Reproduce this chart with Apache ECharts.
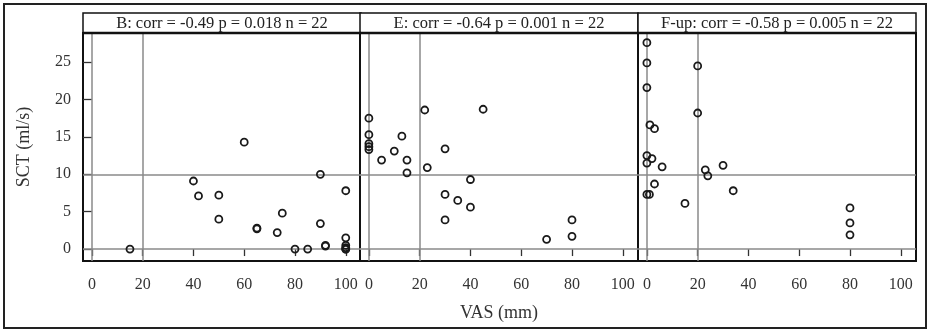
<!DOCTYPE html>
<html>
<head>
<meta charset="utf-8">
<script src="https://cdn.jsdelivr.net/npm/echarts@6/dist/echarts.min.js"></script>
<style>html,body{margin:0;padding:0;background:#fff}#c{width:930px;height:333px}</style>
</head>
<body>
<div id="c"></div>
<script>
// ---- data ----
const panelTitles = [
  "B: corr = -0.49 p = 0.018 n = 22",
  "E: corr = -0.64 p = 0.001 n = 22",
  "F-up: corr = -0.58 p = 0.005 n = 22"
];
const vasB = [15, 40, 42, 50, 50, 60, 90, 100, 75, 65, 65, 73, 90, 80, 85, 92, 92, 100, 100, 100, 100, 100];
const sctB = [0, 9.1, 7.1, 7.2, 4.0, 14.3, 10.0, 7.8, 4.8, 2.8, 2.7, 2.2, 3.4, 0, 0, 0.4, 0.5, 1.5, 0.5, 0.2, 0, 0];
const vasE = [0, 0, 0, 0, 0, 13, 10, 5, 15, 15, 22, 45, 23, 30, 40, 30, 35, 40, 30, 70, 80, 80];
const sctE = [17.5, 15.3, 14.1, 13.7, 13.3, 15.1, 13.1, 11.9, 11.9, 10.2, 18.6, 18.7, 10.9, 13.4, 9.3, 7.3, 6.5, 5.6, 3.9, 1.3, 3.9, 1.7];
const vasF = [0, 0, 0, 20, 20, 1.2, 3, 0, 2, 0, 6, 23, 24, 30, 3, 0, 1, 15, 34, 80, 80, 80];
const sctF = [27.6, 24.9, 21.6, 24.5, 18.2, 16.6, 16.1, 12.5, 12.1, 11.5, 11.0, 10.6, 9.8, 11.2, 8.7, 7.3, 7.3, 6.1, 7.8, 5.5, 3.5, 1.9];
const xTicks = [0, 20, 40, 60, 80, 100];
const yTicks = [0, 5, 10, 15, 20, 25];
const refX = [0, 20];
const refY = [0, 10];
const xTitle = "VAS (mm)";
const yTitle = "SCT (ml/s)";

// ---- layout ----
const FONT = "'Liberation Serif', 'DejaVu Serif', serif";
const lefts = [83, 360, 638];
const W = 278, TOP = 33, H = 228;
const xs = [vasB, vasE, vasF], ys = [sctB, sctE, sctF];

const grids = [], xAxes = [], yAxes = [], series = [], graphics = [];
graphics.push({type:'rect', shape:{x:4, y:4, width:922, height:324}, style:{fill:'none', stroke:'#222', lineWidth:2}, z:10});
for (let i = 0; i < 3; i++) {
  grids.push({left: lefts[i], top: TOP, width: W, height: H, show: true, borderColor: '#111', borderWidth: 2, backgroundColor: '#fff'});
  xAxes.push({
    type: 'value', gridIndex: i, min: -3.5, max: 106,
    axisLine: {show: false}, splitLine: {show: false},
    axisTick: {show: true, length: 7, customValues: xTicks, lineStyle: {color: '#333', width: 1.3}},
    axisLabel: {show: true, customValues: xTicks, margin: 16, fontFamily: FONT, fontSize: 16, color: '#333'},
    name: i === 1 ? xTitle : '', nameLocation: 'middle', nameGap: 43,
    nameTextStyle: {fontFamily: FONT, fontSize: 18, color: '#333'}
  });
  yAxes.push({
    type: 'value', gridIndex: i, min: -1.6, max: 28.9,
    axisLine: {show: false}, splitLine: {show: false},
    axisTick: {show: i === 0, length: 9, customValues: yTicks, lineStyle: {color: '#333', width: 1.3}},
    axisLabel: {show: i === 0, customValues: yTicks, margin: 12, fontFamily: FONT, fontSize: 16, color: '#333'},
    name: i === 0 ? yTitle : '', nameLocation: 'middle', nameGap: 50, nameRotate: 90,
    nameTextStyle: {fontFamily: FONT, fontSize: 18, color: '#333'}
  });
  const d = xs[i].map((v, k) => [v, ys[i][k]]);
  series.push({
    type: 'scatter', xAxisIndex: i, yAxisIndex: i, data: d,
    symbol: 'circle', symbolSize: 7, z: 5,
    itemStyle: {color: 'rgba(0,0,0,0)', borderColor: '#1a1a1a', borderWidth: 1.8, opacity: 1},
    emphasis: {disabled: true},
    markLine: {
      silent: true, symbol: 'none', animation: false, z: 2,
      label: {show: false},
      lineStyle: {color: '#8a8a8a', width: 1.5, type: 'solid'},
      data: refX.map(v => ({xAxis: v})).concat(refY.map(v => ({yAxis: v})))
    }
  });
  graphics.push({type:'rect', shape:{x: lefts[i], y: 13, width: W, height: 20}, style:{fill:'#fff', stroke:'#111', lineWidth:1.5}, z: 8});
  graphics.push({type:'line', shape:{x1: lefts[i], y1: 33, x2: lefts[i] + W, y2: 33}, style:{stroke:'#111', lineWidth:2.5}, z: 9});
  graphics.push({type:'text', x: lefts[i] + W / 2, y: 23.5, style:{text: panelTitles[i], fontFamily: FONT, fontSize: 16.5, fill: '#222', align: 'center', verticalAlign: 'middle'}, z: 9});
}

const chart = echarts.init(document.getElementById('c'), null, {renderer: 'canvas'});
chart.setOption({
  animation: false,
  grid: grids, xAxis: xAxes, yAxis: yAxes, series: series, graphic: graphics
});
</script>
</body>
</html>
